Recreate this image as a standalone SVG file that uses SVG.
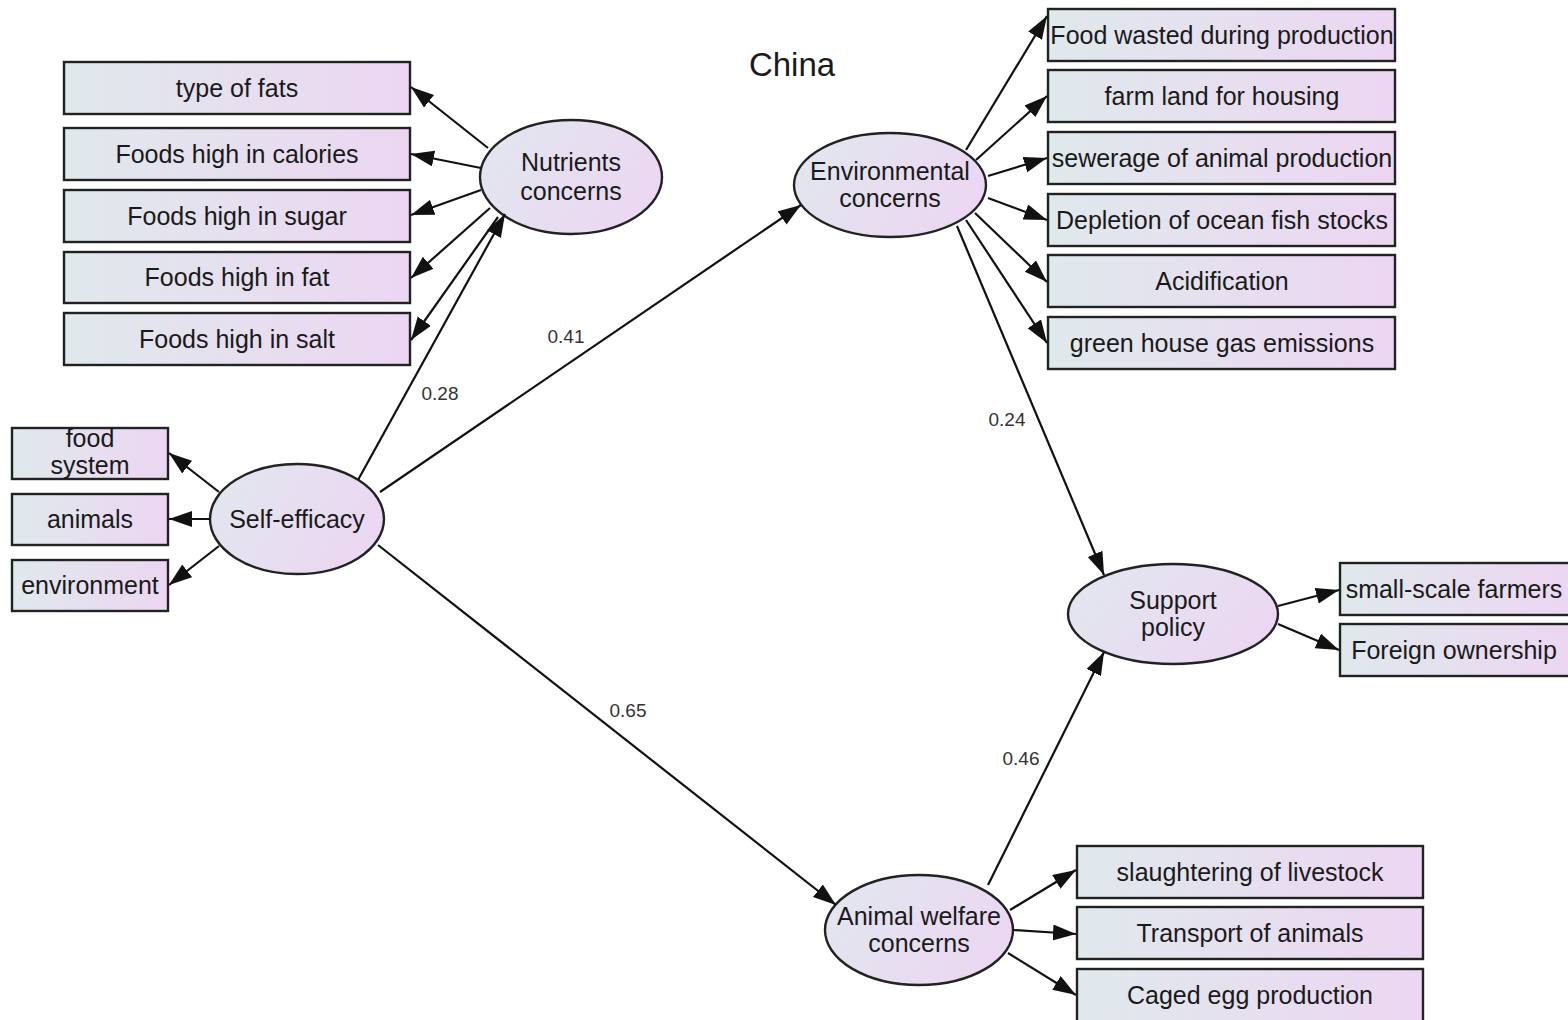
<svg xmlns="http://www.w3.org/2000/svg" width="1568" height="1020" viewBox="0 0 1568 1020">
<style>
text{font-family:"Liberation Sans",Arial,sans-serif;fill:#1a1a1a;text-anchor:middle}
.t{font-size:25px}
.lbl{font-size:19px;fill:#333}
.title{font-size:33px}
.box{fill:url(#g);stroke:#222;stroke-width:2.4}
.ell{fill:url(#ge);stroke:#222;stroke-width:2.4}
.c line{stroke:#111;stroke-width:2.2;marker-end:url(#ah)}
</style>
<defs>
<linearGradient id="g" x1="0" y1="0" x2="1" y2="0">
<stop offset="0" stop-color="#e0e9ec"/>
<stop offset="1" stop-color="#ecd6f2"/>
</linearGradient>
<linearGradient id="ge" x1="0" y1="0.3" x2="1" y2="0.7">
<stop offset="0" stop-color="#e2e6ef"/>
<stop offset="1" stop-color="#ecd6f2"/>
</linearGradient>
<marker id="ah" markerUnits="userSpaceOnUse" markerWidth="26" markerHeight="18" refX="23" refY="8" orient="auto">
<path d="M0,0 L23,8 L0,16 z" fill="#111"/>
</marker>
</defs>
<rect width="1568" height="1020" fill="#fff"/>
<text class="title" x="792" y="76">China</text>

<g id="labels">
<text class="lbl" x="440" y="400">0.28</text>
<text class="lbl" x="566" y="343">0.41</text>
<text class="lbl" x="628" y="717">0.65</text>
<text class="lbl" x="1007" y="426">0.24</text>
<text class="lbl" x="1021" y="765">0.46</text>
</g>

<g id="n-typefats"><rect class="box" x="64" y="62" width="346" height="52"/><text class="t" x="237" y="97">type of fats</text></g>
<g id="n-calories"><rect class="box" x="64" y="128" width="346" height="52"/><text class="t" x="237" y="163">Foods high in calories</text></g>
<g id="n-sugar"><rect class="box" x="64" y="190" width="346" height="52"/><text class="t" x="237" y="225">Foods high in sugar</text></g>
<g id="n-fat"><rect class="box" x="64" y="252" width="346" height="51"/><text class="t" x="237" y="286">Foods high in fat</text></g>
<g id="n-salt"><rect class="box" x="64" y="313" width="346" height="52"/><text class="t" x="237" y="348">Foods high in salt</text></g>

<g id="n-nutrients"><ellipse class="ell" cx="571" cy="177" rx="91" ry="57"/><text class="t" x="571" y="171">Nutrients</text><text class="t" x="571" y="200">concerns</text></g>

<g id="n-foodsystem"><rect class="box" x="12" y="428" width="156" height="51"/><text class="t" x="90" y="447">food</text><text class="t" x="90" y="474">system</text></g>
<g id="n-animals"><rect class="box" x="12" y="494" width="156" height="51"/><text class="t" x="90" y="528">animals</text></g>
<g id="n-environment"><rect class="box" x="12" y="560" width="156" height="51"/><text class="t" x="90" y="594">environment</text></g>

<g id="n-selfefficacy"><ellipse class="ell" cx="297" cy="519" rx="87" ry="55"/><text class="t" x="297" y="528">Self-efficacy</text></g>

<g id="n-env"><ellipse class="ell" cx="890" cy="185" rx="96" ry="52"/><text class="t" x="890" y="180">Environmental</text><text class="t" x="890" y="207">concerns</text></g>

<g id="n-foodwasted"><rect class="box" x="1048" y="9" width="347" height="52"/><text class="t" x="1222" y="44">Food wasted during production</text></g>
<g id="n-farmland"><rect class="box" x="1048" y="70" width="347" height="52"/><text class="t" x="1222" y="105">farm land for housing</text></g>
<g id="n-sewerage"><rect class="box" x="1048" y="132" width="347" height="52"/><text class="t" x="1222" y="167">sewerage of animal production</text></g>
<g id="n-depletion"><rect class="box" x="1048" y="194" width="347" height="52"/><text class="t" x="1222" y="229">Depletion of ocean fish stocks</text></g>
<g id="n-acid"><rect class="box" x="1048" y="255" width="347" height="52"/><text class="t" x="1222" y="290">Acidification</text></g>
<g id="n-ghg"><rect class="box" x="1048" y="317" width="347" height="52"/><text class="t" x="1222" y="352">green house gas emissions</text></g>

<g id="n-support"><ellipse class="ell" cx="1173" cy="614" rx="105" ry="50"/><text class="t" x="1173" y="609">Support</text><text class="t" x="1173" y="636">policy</text></g>
<g id="n-smallscale"><rect class="box" x="1340" y="563" width="230" height="52"/><text class="t" x="1454" y="598">small-scale farmers</text></g>
<g id="n-foreign"><rect class="box" x="1340" y="624" width="230" height="52"/><text class="t" x="1454" y="659">Foreign ownership</text></g>

<g id="n-animalwelfare"><ellipse class="ell" cx="919" cy="930" rx="94" ry="55"/><text class="t" x="919" y="925">Animal welfare</text><text class="t" x="919" y="952">concerns</text></g>
<g id="n-slaughter"><rect class="box" x="1077" y="846" width="346" height="52"/><text class="t" x="1250" y="881">slaughtering of livestock</text></g>
<g id="n-transport"><rect class="box" x="1077" y="907" width="346" height="52"/><text class="t" x="1250" y="942">Transport of animals</text></g>
<g id="n-caged"><rect class="box" x="1077" y="969" width="346" height="55"/><text class="t" x="1250" y="1004">Caged egg production</text></g>

<g class="c" id="connectors">
<line x1="358" y1="480" x2="505" y2="214"/>
<line x1="380" y1="492" x2="801" y2="205"/>
<line x1="378" y1="545" x2="836" y2="905"/>
<line x1="957" y1="226" x2="1104" y2="575"/>
<line x1="988" y1="885" x2="1104" y2="652"/>
<line x1="488" y1="148" x2="411" y2="87"/>
<line x1="481" y1="168" x2="411" y2="154"/>
<line x1="481" y1="190" x2="411" y2="215"/>
<line x1="490" y1="208" x2="411" y2="278"/>
<line x1="498" y1="217" x2="411" y2="340"/>
<line x1="219" y1="492" x2="169" y2="453"/>
<line x1="210" y1="519" x2="169" y2="519"/>
<line x1="219" y1="546" x2="169" y2="585"/>
<line x1="966" y1="150" x2="1047" y2="16"/>
<line x1="976" y1="160" x2="1047" y2="96"/>
<line x1="988" y1="176" x2="1047" y2="158"/>
<line x1="988" y1="198" x2="1047" y2="220"/>
<line x1="975" y1="213" x2="1047" y2="282"/>
<line x1="966" y1="220" x2="1047" y2="343"/>
<line x1="1278" y1="606" x2="1339" y2="590"/>
<line x1="1278" y1="624" x2="1339" y2="650"/>
<line x1="1010" y1="910" x2="1076" y2="870"/>
<line x1="1013" y1="930" x2="1076" y2="934"/>
<line x1="1008" y1="953" x2="1076" y2="995"/>
</g>
</svg>
